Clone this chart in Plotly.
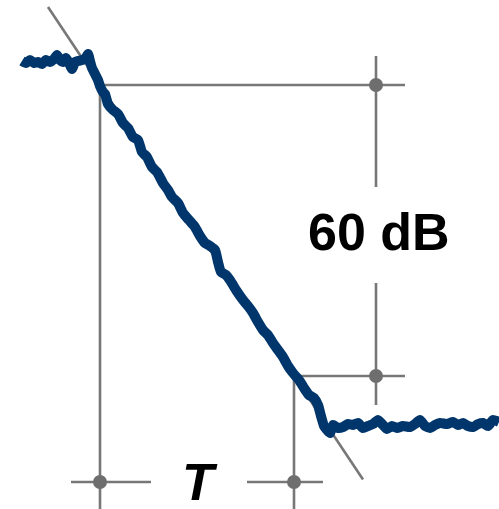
import plotly.graph_objects as go

# Measured decay curve: time (s) and sound level (dB, relative to the decay start)
time_s = [-0.78, -0.74, -0.70, -0.66, -0.62, -0.58, -0.54, -0.50, -0.46, -0.43,
          -0.40, -0.37, -0.34, -0.31, -0.28, -0.25, -0.22, -0.18, -0.15, -0.12,
          -0.10, -0.08, -0.05, -0.02, 0.00, 0.03, 0.05, 0.08, 0.13, 0.18,
          0.23, 0.28, 0.33, 0.38, 0.42, 0.47, 0.52, 0.57, 0.63, 0.68,
          0.72, 0.78, 0.83, 0.89, 0.95, 1.00, 1.05, 1.10, 1.15, 1.18,
          1.21, 1.26, 1.30, 1.36, 1.43, 1.48, 1.53, 1.58, 1.63, 1.68,
          1.73, 1.78, 1.83, 1.88, 1.93, 1.99, 2.04, 2.09, 2.14, 2.18,
          2.21, 2.24, 2.27, 2.30, 2.33, 2.38, 2.43, 2.48, 2.53, 2.58,
          2.63, 2.68, 2.73, 2.78, 2.83, 2.87, 2.92, 2.97, 3.03, 3.10,
          3.15, 3.20, 3.25, 3.30, 3.35, 3.40, 3.47, 3.53, 3.58, 3.63,
          3.68, 3.73, 3.78, 3.83, 3.88, 3.93, 3.99]
level_db = [4.95, 4.54, 5.15, 4.54, 4.74, 4.33, 5.15, 4.74, 5.36, 6.19,
            5.15, 4.74, 5.57, 4.54, 3.30, 4.74, 4.95, 5.15, 5.36, 6.39,
            4.95, 3.51, 2.27, 1.03, -0.21, -1.44, -1.86, -3.92, -5.15, -5.98,
            -7.84, -8.87, -10.72, -11.34, -13.81, -14.85, -16.91, -17.94, -20.21, -21.65,
            -23.09, -24.33, -26.39, -27.84, -29.28, -31.13, -32.58, -33.20, -34.02, -36.49,
            -38.56, -39.18, -40.21, -42.27, -44.33, -45.57, -47.01, -48.87, -50.52, -51.55,
            -53.20, -54.64, -56.08, -57.94, -59.38, -60.82, -62.47, -63.92, -64.54, -65.98,
            -68.25, -70.31, -71.13, -71.75, -70.10, -70.72, -70.52, -69.90, -70.10, -69.69,
            -70.72, -70.31, -69.90, -69.07, -70.10, -70.93, -70.31, -70.72, -70.31, -70.52,
            -69.90, -69.07, -70.31, -70.72, -70.10, -69.69, -69.90, -69.48, -70.10, -69.69,
            -70.31, -70.52, -69.90, -69.69, -70.31, -69.07, -69.48]

# Construction values
T_START = 0.0          # s, where the decay crosses 0 dB
T_END = 1.94           # s, where the decay reaches -60 dB
L_TOP = 0.0            # dB
L_BOT = -60.0          # dB
DIM_X = 2.76           # s, position of the 60 dB dimension line
DIM_Y = -81.86         # dB, position of the T dimension line
REF_RIGHT = 3.05       # s, right end of level reference lines
TANGENT_T = [-0.52, 2.63]
DB_GAP = [(5.98, -21.03), (-40.82, -65.98)]   # segments of the 60 dB dim line
T_GAP = [(-0.29, 0.51), (1.47, 2.23)]         # segments of the T dim line
LABEL_DB = "60 dB"
LABEL_T = "T"

X_RANGE = [-1.00, 3.99]
Y_RANGE = [-87.42, 17.53]

GREY = "#777777"
BLUE = "#00366B"
LW = 2.6

fig = go.Figure()

def seg(x, y):
    fig.add_trace(go.Scatter(x=x, y=y, mode="lines",
                             line=dict(color=GREY, width=LW),
                             hoverinfo="skip", showlegend=False))

slope = (L_BOT - L_TOP) / (T_END - T_START)
seg(TANGENT_T, [L_TOP + slope * (t - T_START) for t in TANGENT_T])
seg([T_START, REF_RIGHT], [L_TOP, L_TOP])
seg([T_END, REF_RIGHT], [L_BOT, L_BOT])
seg([T_START, T_START], [L_TOP, Y_RANGE[0] - 5])
seg([T_END, T_END], [L_BOT, Y_RANGE[0] - 5])
for a, b in DB_GAP:
    seg([DIM_X, DIM_X], [a, b])
for a, b in T_GAP:
    seg([a, b], [DIM_Y, DIM_Y])

fig.add_trace(go.Scatter(x=time_s, y=level_db, mode="lines",
                         line=dict(color=BLUE, width=10, shape="spline", smoothing=0.5),
                         hoverinfo="skip", showlegend=False))

fig.add_trace(go.Scatter(x=[DIM_X, DIM_X, T_START, T_END],
                         y=[L_TOP, L_BOT, DIM_Y, DIM_Y], mode="markers",
                         marker=dict(color="#6e6e6e", size=14),
                         hoverinfo="skip", showlegend=False))

fig.add_annotation(x=DIM_X + 0.025, y=(L_TOP + L_BOT) / 2 - 0.3, text="<b>" + LABEL_DB + "</b>",
                   showarrow=False, xanchor="center", yanchor="middle",
                   font=dict(family="Liberation Sans, Arial", size=52, color="#000000"))
fig.add_annotation(x=(T_START + T_END) / 2 + 0.03, y=DIM_Y, text="<b><i>" + LABEL_T + "</i></b>",
                   showarrow=False, xanchor="center", yanchor="middle",
                   font=dict(family="Liberation Sans, Arial", size=52, color="#000000"))

fig.update_layout(width=499, height=509, margin=dict(l=0, r=0, t=0, b=0),
                  plot_bgcolor="white", paper_bgcolor="white",
                  xaxis=dict(range=X_RANGE, visible=False, fixedrange=True),
                  yaxis=dict(range=Y_RANGE, visible=False, fixedrange=True))

fig.write_html("out.html", config={"displayModeBar": False},
               post_script="document.body.style.margin='0px';document.body.style.overflow='hidden';")
